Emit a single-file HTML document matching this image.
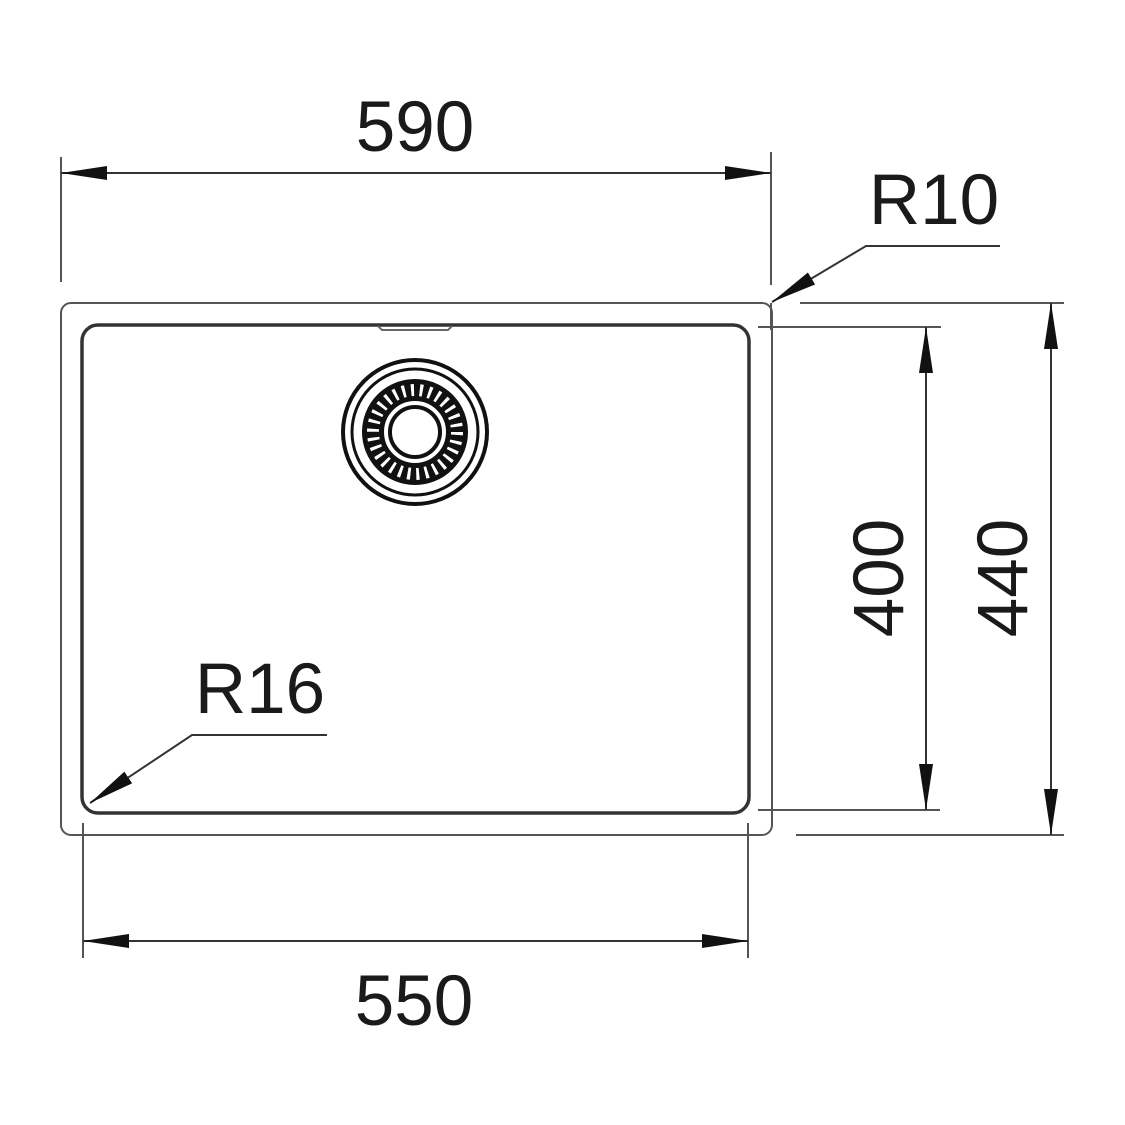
<!DOCTYPE html>
<html><head><style>
html,body{margin:0;padding:0;background:#fff;}
svg{display:block;}
text{font-family:"Liberation Sans",Arial,sans-serif;fill:#1a1a1a;}
</style></head><body>
<svg width="1125" height="1125" viewBox="0 0 1125 1125" xmlns="http://www.w3.org/2000/svg">
<defs>
<marker id="a" viewBox="0 0 46 14" refX="46" refY="7" markerWidth="46" markerHeight="14" markerUnits="userSpaceOnUse" orient="auto-start-reverse">
<path d="M0,0 L46,7 L0,14 Z" fill="#111"/>
</marker>
</defs>
<rect x="61" y="303" width="711" height="532" rx="10" fill="none" stroke="#555" stroke-width="2"/>
<rect x="82" y="325" width="667" height="488" rx="16" fill="none" stroke="#333" stroke-width="3.5"/>
<path d="M378,326 L382,330 L448,330 L452,326" fill="none" stroke="#666" stroke-width="2"/>
<circle cx="415" cy="432" r="72" fill="none" stroke="#111" stroke-width="4"/>
<circle cx="415" cy="432" r="63" fill="none" stroke="#111" stroke-width="3"/>
<circle cx="415" cy="432" r="42" fill="none" stroke="#111" stroke-width="22"/>
<circle cx="415" cy="432" r="42" fill="none" stroke="#fff" stroke-width="12" stroke-dasharray="3 5.8"/>
<circle cx="415" cy="432" r="25" fill="#fff" stroke="#111" stroke-width="4"/>
<g stroke="#555" stroke-width="2">
<line x1="61" y1="157" x2="61" y2="282"/>
<line x1="771" y1="152" x2="771" y2="285"/>
<line x1="83" y1="823" x2="83" y2="958"/>
<line x1="748" y1="823" x2="748" y2="958"/>
<line x1="758" y1="327" x2="941" y2="327"/>
<line x1="758" y1="810" x2="940" y2="810"/>
<line x1="800" y1="303" x2="1064" y2="303"/>
<line x1="796" y1="835" x2="1064" y2="835"/>
<line x1="771" y1="303" x2="771" y2="330"/>
</g>
<g stroke="#333" stroke-width="2" fill="none">
<line x1="61" y1="173" x2="771" y2="173" marker-start="url(#a)" marker-end="url(#a)"/>
<line x1="83" y1="941" x2="748" y2="941" marker-start="url(#a)" marker-end="url(#a)"/>
<line x1="926" y1="327" x2="926" y2="810" marker-start="url(#a)" marker-end="url(#a)"/>
<line x1="1051" y1="303" x2="1051" y2="835" marker-start="url(#a)" marker-end="url(#a)"/>
<polyline points="1000,246 866,246 772,302" marker-end="url(#a)"/>
<polyline points="327,735 192,735 90,803" marker-end="url(#a)"/>
</g>
<g font-size="71">
<text x="415" y="151" text-anchor="middle">590</text>
<text x="414" y="1025" text-anchor="middle">550</text>
<text x="934" y="224" text-anchor="middle">R10</text>
<text x="260" y="713" text-anchor="middle">R16</text>
<text transform="translate(903,578) rotate(-90)" text-anchor="middle">400</text>
<text transform="translate(1027,578) rotate(-90)" text-anchor="middle">440</text>
</g>
</svg>
</body></html>
